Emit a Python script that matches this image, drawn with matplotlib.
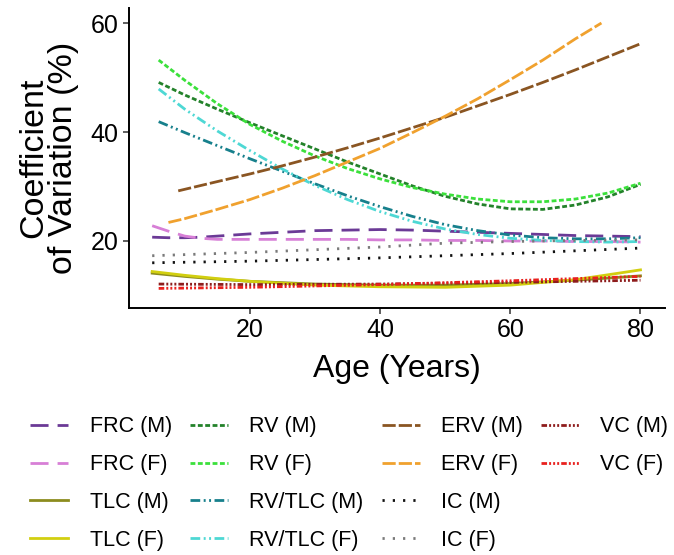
import matplotlib
matplotlib.use("Agg")
import matplotlib.pyplot as plt
from matplotlib.lines import Line2D

plt.rcParams['font.family'] = ['Liberation Sans', 'DejaVu Sans']
plt.rcParams['lines.scale_dashes'] = False

grid = [6, 10, 15, 20, 25, 30, 35, 40, 45, 50, 55, 60, 65, 70, 75, 80]
frc_age = [5, 7.5, 10, 12.5, 15, 20, 25, 30, 35, 40, 45, 50, 55, 60, 65, 70, 75, 80]
tlc_age = [5, 10, 15, 20, 30, 40, 50, 60, 70, 80]
erv_m_age = [9, 15, 20, 25, 30, 35, 40, 45, 50, 55, 60, 65, 70, 75, 80]
erv_f_age = [7.5, 10, 15, 20, 25, 30, 35, 40, 45, 50, 55, 60, 65, 70, 74]
ic_age = [5, 20, 40, 50, 60, 70, 80]
vc_age = [6, 20, 40, 60, 70, 80]

# coefficient of variation (%)
frc_m = [20.7, 20.6, 20.6, 20.7, 20.9, 21.3, 21.6, 21.9, 22.0, 22.1, 22.0, 21.8, 21.6, 21.4, 21.2, 21.0, 20.9, 20.8]
frc_f = [22.8, 21.8, 20.9, 20.5, 20.3, 20.3, 20.3, 20.3, 20.3, 20.2, 20.2, 20.1, 20.1, 20.0, 20.0, 19.9, 19.9, 19.8]
tlc_m = [14.1, 13.5, 13.0, 12.6, 12.1, 11.9, 11.9, 12.2, 12.8, 13.6]
tlc_f = [14.4, 13.7, 13.1, 12.6, 11.9, 11.6, 11.5, 11.9, 12.9, 14.7]
rv_m = [49.1, 46.8, 44.2, 41.7, 39.3, 36.9, 34.5, 32.3, 30.1, 28.2, 26.8, 25.9, 25.8, 26.6, 28.1, 30.4]
rv_f = [53.2, 49.5, 45.2, 41.4, 38.3, 35.6, 33.3, 31.4, 29.8, 28.6, 27.7, 27.2, 27.2, 27.7, 28.8, 30.6]
rvtlc_m = [41.9, 39.9, 37.5, 35.1, 32.8, 30.5, 28.3, 26.3, 24.5, 23.0, 21.9, 21.1, 20.6, 20.4, 20.4, 20.6]
rvtlc_f = [47.9, 44.2, 40.2, 36.6, 33.2, 30.2, 27.6, 25.4, 23.6, 22.2, 21.2, 20.5, 20.1, 19.9, 19.8, 19.9]
erv_m = [29.2, 30.9, 32.3, 33.8, 35.4, 37.1, 38.9, 40.8, 42.7, 44.8, 46.9, 49.1, 51.4, 53.8, 56.2]
erv_f = [23.4, 24.1, 25.8, 27.6, 29.7, 32.0, 34.5, 37.0, 39.9, 42.9, 46.1, 49.6, 53.2, 57.1, 60.0]
ic_m = [16.0, 16.3, 16.9, 17.3, 17.7, 18.2, 18.7]
ic_f = [17.3, 17.9, 18.9, 19.6, 19.9, 20.1, 20.2]
vc_m = [12.1, 12.0, 12.1, 12.4, 12.6, 12.8]
vc_f = [11.3, 11.5, 12.0, 12.7, 13.1, 13.5]

frc_dash = (13, 6.5)
rv_dash = (3.5, 1.8)
rvtlc_dash = (7, 2.5, 1.4, 2.5, 1.4, 2.5)
erv_dash = (9.5, 2.2)
ic_dash = (1.6, 5.8)
vc_dash = (4, 1.5, 1.4, 1.5, 1.4, 1.5, 1.4, 1.5)

series = [
    ("FRC (M)", frc_age, frc_m, "#6B3A96", frc_dash),
    ("FRC (F)", frc_age, frc_f, "#D77FD6", frc_dash),
    ("TLC (M)", tlc_age, tlc_m, "#8C8C1E", None),
    ("TLC (F)", tlc_age, tlc_f, "#D2CF10", None),
    ("RV (M)", grid, rv_m, "#23822A", rv_dash),
    ("RV (F)", grid, rv_f, "#3BE03B", rv_dash),
    ("RV/TLC (M)", grid, rvtlc_m, "#17808C", rvtlc_dash),
    ("RV/TLC (F)", grid, rvtlc_f, "#4ED8D4", rvtlc_dash),
    ("ERV (M)", erv_m_age, erv_m, "#8A5522", erv_dash),
    ("ERV (F)", erv_f_age, erv_f, "#F0A12E", erv_dash),
    ("IC (M)", ic_age, ic_m, "#111111", ic_dash),
    ("IC (F)", ic_age, ic_f, "#7A7A7A", ic_dash),
    ("VC (M)", vc_age, vc_m, "#8E1C1C", vc_dash),
    ("VC (F)", vc_age, vc_f, "#E8211E", vc_dash),
]

fig = plt.figure(figsize=(6.74, 5.55), dpi=100)
ax = fig.add_axes([0.191, 0.445, 0.796, 0.541])

handles = []
for name, x, y, col, dash in series:
    line, = ax.plot(x, y, color=col, lw=2.0, label=name)
    if dash is not None:
        line.set_dashes(dash)
    handles.append(line)

ax.set_xlim(1.4, 83.8)
ax.set_ylim(7.7, 62.8)
ax.set_xticks([20, 40, 60, 80])
ax.set_yticks([20, 40, 60])
for s in ["top", "right"]:
    ax.spines[s].set_visible(False)
for s in ["left", "bottom"]:
    ax.spines[s].set_linewidth(1.4)
ax.tick_params(labelsize=18, length=4, width=1.1, colors="#333333", labelcolor="black")
ax.set_xlabel("Age (Years)", fontsize=23, labelpad=8)
ax.set_ylabel("Coefficient\nof Variation (%)", fontsize=24.5, labelpad=8, linespacing=0.95)

# pad the last column so the legend fills 4, 4, 4, 2
blank = Line2D([], [], alpha=0)
handles += [blank, blank]
labels = [s[0] for s in series] + ["", ""]
fig.legend(handles, labels, loc="upper left", bbox_to_anchor=(0.045, 0.25), ncol=4,
           frameon=False, fontsize=15.5, handlelength=1.75, handletextpad=1.0,
           columnspacing=0.85, labelspacing=0.78, borderpad=0, borderaxespad=0)

fig.savefig("out.png", dpi=100)
